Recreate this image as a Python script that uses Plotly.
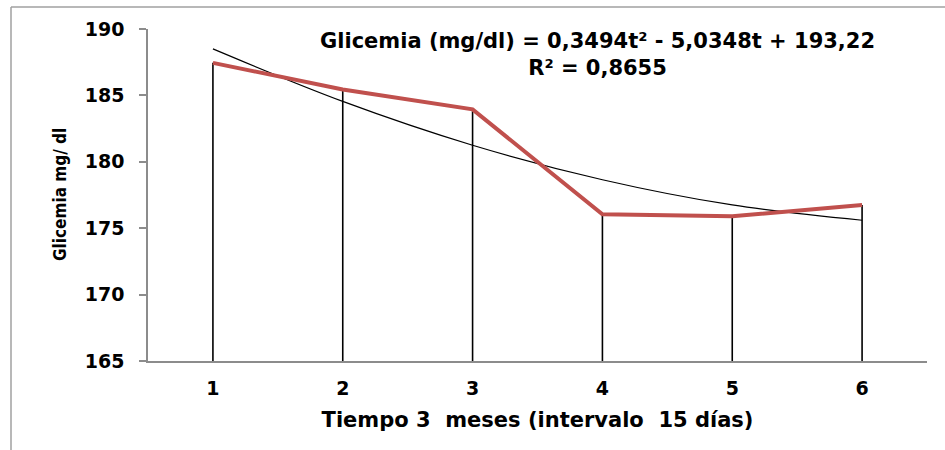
import plotly.graph_objects as go

tiempo = [1, 2, 3, 4, 5, 6]
glicemia = [187.45, 185.45, 183.95, 176.05, 175.9, 176.75]
tendencia = [188.5, 184.55, 181.25, 178.65, 176.75, 175.6]
base = 165
y_ticks = [165, 170, 175, 180, 185, 190]

W, H = 945, 450
L, R, T, B = 148, 18, 29, 89
pw = W - L - R
ph = H - T - B

def px_x(p):
    return (p - L) / pw

def px_y(p):
    return (H - B - p) / ph

font_main = "DejaVu Sans, Liberation Sans, Arial, sans-serif"

fig = go.Figure()

# drop lines from each point to the base
fig.add_trace(go.Scatter(
    x=tiempo, y=glicemia, mode="markers",
    marker=dict(size=1, color="rgba(0,0,0,0)"),
    error_y=dict(type="data", symmetric=False, array=[0] * len(tiempo),
                 arrayminus=[v - base for v in glicemia],
                 width=0, thickness=1.6, color="black"),
    hoverinfo="skip", showlegend=False))

# polynomial trend line
fig.add_trace(go.Scatter(
    x=tiempo, y=tendencia, mode="lines",
    line=dict(color="black", width=1.2, shape="spline"),
    showlegend=False))

# observed values
fig.add_trace(go.Scatter(
    x=tiempo, y=glicemia, mode="lines",
    line=dict(color="#C0504D", width=4),
    showlegend=False))

tick_font = dict(size=19, family=font_main, weight="bold", color="black")

fig.update_layout(
    width=W, height=H,
    margin=dict(l=L, r=R, t=T, b=B, pad=0),
    paper_bgcolor="white", plot_bgcolor="white",
    font=dict(family=font_main, color="black"),
    xaxis=dict(range=[0.5, 6.5], tickvals=tiempo, ticktext=[str(t) for t in tiempo],
               showgrid=False, zeroline=False, showline=True, linecolor="#8c8c8c",
               linewidth=1.5, ticks="", tickfont=tick_font, ticklabelstandoff=9,
               title=dict(text="Tiempo 3  meses (intervalo  15 días)",
                          font=dict(size=21, family=font_main, weight="bold"), standoff=15)),
    yaxis=dict(range=[base, 190], tickvals=y_ticks, showgrid=False, zeroline=False,
               showline=True, linecolor="#8c8c8c", linewidth=1.5, ticks="outside",
               ticklen=7, tickcolor="#8c8c8c", tickwidth=1.5,
               tickfont=tick_font, ticklabelstandoff=11),
    annotations=[
        dict(xref="paper", yref="paper", x=px_x(60), y=0.5, textangle=-90,
             text="Glicemia mg/ dl", showarrow=False, xanchor="center", yanchor="middle",
             font=dict(size=17, family="DejaVu Sans Condensed, Liberation Sans Narrow, Arial Narrow, sans-serif",
                       weight="bold")),
        dict(xref="paper", yref="paper", x=px_x(597), y=px_y(54),
             text="Glicemia (mg/dl) = 0,3494t² - 5,0348t + 193,22<br>R² = 0,8655",
             showarrow=False, xanchor="center", yanchor="middle", align="center",
             font=dict(size=21, family=font_main, weight="bold")),
    ],
    shapes=[
        dict(type="line", xref="paper", yref="paper", x0=px_x(11), x1=px_x(11),
             y0=px_y(7), y1=px_y(460), line=dict(color="#a0a0a0", width=1.5)),
        dict(type="line", xref="paper", yref="paper", x0=px_x(11), x1=px_x(960),
             y0=px_y(7), y1=px_y(7), line=dict(color="#a0a0a0", width=1.5)),
    ],
)

fig.write_html("out.html")
